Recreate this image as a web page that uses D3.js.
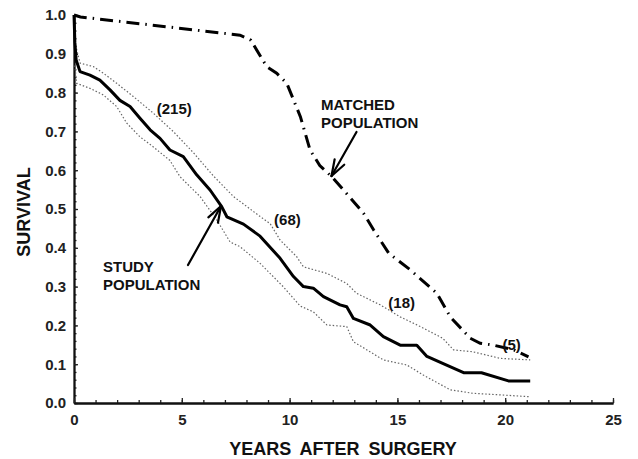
<!DOCTYPE html>
<html>
<head>
<meta charset="utf-8">
<script src="https://cdn.jsdelivr.net/npm/d3@7"></script>
<style>
  body { margin: 0; background: #fff; }
  svg { display: block; font-family: "Liberation Sans", Arial, sans-serif; }
  .lbl { font-weight: bold; fill: #111; }
</style>
</head>
<body>
<div id="chart"></div>
<script>
var width = 638,
    height = 459;

// study population (Kaplan-Meier), years after surgery vs survival
var studyYears = [0, 0.04, 0.1, 0.28, 0.74, 1.2, 1.67, 2.13, 2.6, 3.06, 3.53, 3.99, 4.45, 5.07, 5.69, 6.31, 6.85, 7.09, 7.86, 8.63, 9.56, 10.18, 10.64, 11.1, 11.57, 12.34, 12.65, 12.96, 13.74, 14.35, 15.13, 15.9, 16.37, 17.1, 18.07, 18.9, 20.15, 21.16];
var studySurv  = [1.0, 0.93, 0.884, 0.854, 0.845, 0.832, 0.807, 0.78, 0.764, 0.734, 0.704, 0.682, 0.652, 0.635, 0.588, 0.549, 0.506, 0.48, 0.461, 0.43, 0.373, 0.326, 0.30, 0.296, 0.274, 0.253, 0.248, 0.218, 0.201, 0.171, 0.149, 0.149, 0.12, 0.102, 0.078, 0.078, 0.057, 0.057];

// confidence limits
var upperYears = [0.04, 0.28, 0.9, 1.36, 1.98, 2.75, 3.68, 4.6, 5.54, 6.47, 7.4, 8.6, 9.1, 9.56, 10.33, 10.64, 11.73, 12.65, 13.1, 14.2, 15.13, 16.06, 17.1, 17.6, 18.5, 19.77, 21.16];
var upperSurv  = [0.93, 0.876, 0.867, 0.85, 0.824, 0.79, 0.747, 0.7, 0.645, 0.585, 0.532, 0.482, 0.462, 0.42, 0.377, 0.351, 0.334, 0.308, 0.283, 0.253, 0.222, 0.197, 0.167, 0.137, 0.132, 0.115, 0.111];

var lowerYears = [0.04, 0.12, 0.74, 1.36, 1.98, 2.45, 3.06, 3.68, 4.45, 4.92, 5.85, 6.62, 7.24, 7.7, 8.63, 9.7, 10.49, 11.1, 11.73, 12.65, 12.96, 14.35, 15.44, 16.2, 17.45, 18.5, 19.77, 21.16];
var lowerSurv  = [0.87, 0.824, 0.811, 0.794, 0.764, 0.721, 0.686, 0.66, 0.625, 0.583, 0.532, 0.472, 0.415, 0.403, 0.36, 0.30, 0.25, 0.235, 0.201, 0.197, 0.158, 0.111, 0.098, 0.072, 0.034, 0.025, 0.021, 0.016];

// matched general population
var matchedYears = [0, 0.3, 7.7, 8.2, 8.94, 9.4, 9.87, 10.5, 10.95, 11.4, 11.96, 12.5, 13.43, 13.9, 14.6, 15.6, 16.83, 17.45, 18.38, 18.84, 19.46, 20.4, 21.08];
var matchedSurv  = [1.0, 0.995, 0.948, 0.935, 0.867, 0.85, 0.824, 0.738, 0.652, 0.612, 0.583, 0.549, 0.489, 0.446, 0.386, 0.343, 0.283, 0.222, 0.167, 0.154, 0.149, 0.137, 0.119];

// numbers at risk
var riskLabels = ['(215)', '(68)', '(18)', '(5)'];
var riskYears  = [4.65, 9.9, 15.2, 20.3];
var riskSurv   = [0.745, 0.458, 0.245, 0.136];

var xTicks = [0, 5, 10, 15, 20, 25];
var yTicks = [0, 0.1, 0.2, 0.3, 0.4, 0.5, 0.6, 0.7, 0.8, 0.9, 1.0];

function zip(xs, ys) {
  return xs.map(function(d, i) { return [d, ys[i]]; });
}

var svg = d3.select('#chart').append('svg')
    .attr('width', width)
    .attr('height', height);

var x = d3.scaleLinear().domain([0, 25]).range([74, 613]);
var y = d3.scaleLinear().domain([0, 1]).range([403, 15]);

var line = d3.line()
    .x(function(d) { return x(d[0]); })
    .y(function(d) { return y(d[1]); });

// axes

var yAxis = d3.axisLeft(y)
    .tickValues(yTicks)
    .tickFormat(d3.format('.1f'))
    .tickSizeInner(-4)
    .tickSizeOuter(0)
    .tickPadding(8);

var yMinor = d3.axisLeft(y)
    .tickValues(d3.range(0, 1.001, 0.02))
    .tickFormat('')
    .tickSizeInner(-2.5)
    .tickSizeOuter(0);

var xAxis = d3.axisBottom(x)
    .tickValues(xTicks)
    .tickFormat(d3.format('d'))
    .tickSizeInner(-5)
    .tickSizeOuter(0)
    .tickPadding(11);

var xMinor = d3.axisBottom(x)
    .tickValues(d3.range(0, 25.01, 1))
    .tickFormat('')
    .tickSizeInner(-3)
    .tickSizeOuter(0);

function styleAxis(g) {
  g.select('.domain').attr('stroke', '#111').attr('stroke-width', 1.8);
  g.selectAll('.tick line').attr('stroke', '#222').attr('stroke-width', 1.3);
  g.selectAll('.tick text')
    .attr('font-size', 15)
    .attr('font-weight', 'bold')
    .attr('fill', '#222')
    .attr('font-family', '"Liberation Sans", Arial, sans-serif');
}

svg.append('g').attr('transform', 'translate(' + x(0) + ',0)').call(yMinor).call(styleAxis);
svg.append('g').attr('transform', 'translate(' + x(0) + ',0)').call(yAxis).call(styleAxis);
svg.append('g').attr('transform', 'translate(0,' + y(0) + ')').call(xMinor).call(styleAxis);
svg.append('g').attr('transform', 'translate(0,' + y(0) + ')').call(xAxis).call(styleAxis);

// axis titles

svg.append('text')
    .attr('class', 'lbl')
    .attr('transform', 'translate(30,212) rotate(-90)')
    .attr('text-anchor', 'middle')
    .attr('font-size', 18)
    .text('SURVIVAL');

svg.append('text')
    .attr('class', 'lbl')
    .attr('x', 343)
    .attr('y', 455)
    .attr('text-anchor', 'middle')
    .attr('font-size', 18)
    .attr('word-spacing', 4)
    .text('YEARS AFTER SURGERY');

// curves

svg.append('path')
    .datum(zip(upperYears, upperSurv))
    .attr('d', line)
    .attr('fill', 'none')
    .attr('stroke', '#666')
    .attr('stroke-width', 1.2)
    .attr('stroke-dasharray', '1.5,2');

svg.append('path')
    .datum(zip(lowerYears, lowerSurv))
    .attr('d', line)
    .attr('fill', 'none')
    .attr('stroke', '#666')
    .attr('stroke-width', 1.2)
    .attr('stroke-dasharray', '1.5,2');

svg.append('path')
    .datum(zip(studyYears, studySurv))
    .attr('d', line)
    .attr('fill', 'none')
    .attr('stroke', '#000')
    .attr('stroke-width', 3)
    .attr('stroke-linejoin', 'round');

svg.append('path')
    .datum(zip(matchedYears, matchedSurv))
    .attr('d', line)
    .attr('fill', 'none')
    .attr('stroke', '#000')
    .attr('stroke-width', 3)
    .attr('stroke-dasharray', '13,6,1.5,6');

// numbers at risk

svg.selectAll('.risk')
    .data(riskLabels)
  .enter().append('text')
    .attr('class', 'lbl risk')
    .attr('x', function(d, i) { return x(riskYears[i]); })
    .attr('y', function(d, i) { return y(riskSurv[i]); })
    .attr('text-anchor', 'middle')
    .attr('font-size', 15)
    .attr('fill', '#333')
    .text(function(d) { return d; });

// labels and arrows

function label(lines, x0, y0) {
  var t = svg.append('text')
      .attr('class', 'lbl')
      .attr('font-size', 15);
  lines.forEach(function(s, i) {
    t.append('tspan').attr('x', x0).attr('y', y0 + i * 17.5).text(s);
  });
}

label(['MATCHED', 'POPULATION'], 321, 110);
label(['STUDY', 'POPULATION'], 103, 272);

function arrow(x1, y1, x2, y2) {
  var a = Math.atan2(y2 - y1, x2 - x1),
      len = 17,
      spread = 0.33;
  var g = svg.append('g')
      .attr('stroke', '#000')
      .attr('stroke-width', 2.2)
      .attr('stroke-linecap', 'round')
      .attr('fill', 'none');
  g.append('line').attr('x1', x1).attr('y1', y1).attr('x2', x2).attr('y2', y2);
  [-spread, spread].forEach(function(s) {
    g.append('line')
        .attr('x1', x2).attr('y1', y2)
        .attr('x2', x2 - len * Math.cos(a + s))
        .attr('y2', y2 - len * Math.sin(a + s));
  });
}

arrow(356.5, 132, 331.5, 176);
arrow(188, 265, 221, 206);
</script>
</body>
</html>
